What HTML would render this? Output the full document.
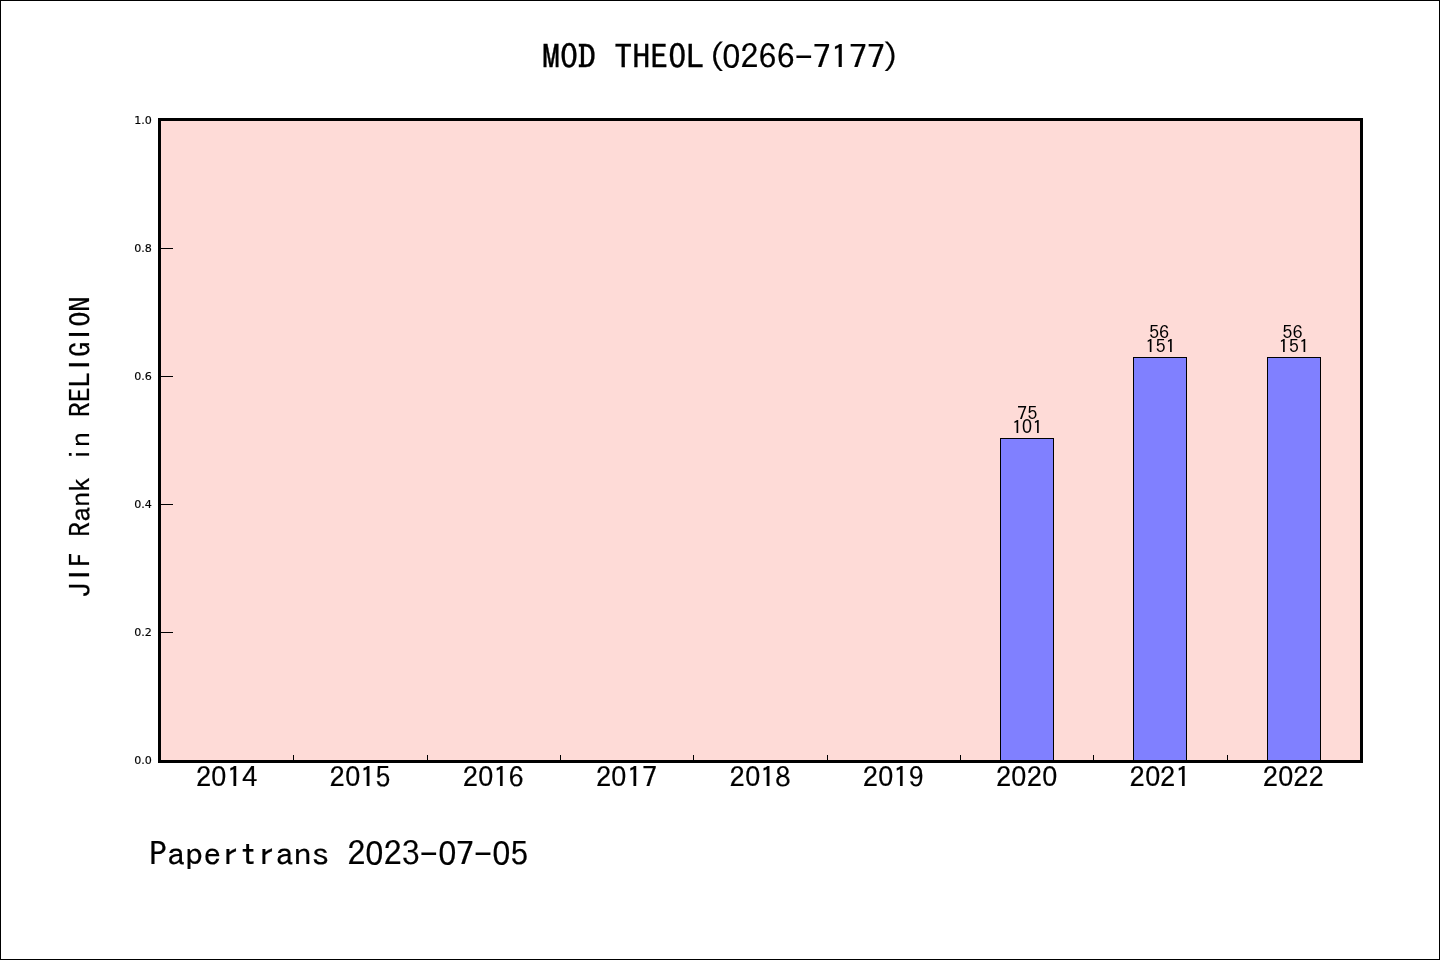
<!DOCTYPE html>
<html lang="en">
<head>
<meta charset="utf-8">
<title>MOD THEOL(0266-7177)</title>
<style>
html,body{margin:0;padding:0;background:#fff;}
body{width:1440px;height:960px;position:relative;overflow:hidden;color:#000;}
.hei{font-family:"IPAGothic","WenQuanYi Zen Hei Mono","Noto Sans Mono CJK SC","Liberation Mono",monospace;white-space:pre;position:absolute;line-height:1;transform:scaleY(0.92);transform-origin:50% 50%;-webkit-text-stroke:0.2px #000;}
.z{display:inline-block;font-family:"Liberation Sans","DejaVu Sans",sans-serif;font-size:1.04em;transform:scaleX(0.85);margin:0 -0.0376em;text-indent:0;vertical-align:0.039em;line-height:0;}
.ci{display:inline-block;font-family:"Liberation Sans","DejaVu Sans",sans-serif;font-size:1.02em;margin:0 0.106em;vertical-align:0.02em;line-height:0;letter-spacing:0;}
.dj{font-family:"DejaVu Sans","Liberation Sans",sans-serif;white-space:pre;position:absolute;line-height:1;}
#frame{position:absolute;left:0;top:0;width:1438px;height:958px;border:1px solid #000;}
#axes{position:absolute;left:158px;top:118px;width:1199px;height:639px;border:3px solid #000;background:#FEDBD7;}
.bar{position:absolute;background:#8080FF;border:1px solid #000;box-sizing:border-box;}
.xt{position:absolute;width:1px;height:5px;top:755px;background:#000;}
.yt{position:absolute;height:1px;width:12px;left:161px;background:#000;}
.yl{font-size:11.11px;width:60px;text-align:right;left:91.9px;-webkit-text-stroke:0.15px #000;}
.big{font-size:36.11px;}
.xl{font-size:30.56px;width:120px;text-align:center;top:761.5px;}
.bl{font-size:20.4px;width:100px;text-align:center;line-height:15.2px;-webkit-text-stroke:0;}
</style>
</head>
<body>
<div id="frame"></div>
<div id="axes"></div>

<div class="hei big" id="title" style="left:2.5px;width:1440px;text-align:center;top:38px;"><span style="-webkit-text-stroke:0.32px #000">MOD THEOL</span><span style="position:relative;left:3px">(</span><span class="z">0</span>266-7177<span style="position:relative;left:-3px">)</span></div>

<div class="hei" id="ylabel" style="left:80px;top:447px;font-size:30.56px;letter-spacing:-0.3px;transform:translate(-50%,-50%) rotate(-90deg) scaleY(0.92);">J<span class="ci">I</span>F Rank in REL<span class="ci">I</span>G<span class="ci">I</span>ON</div>

<div class="dj yl" style="top:115px;">1.0</div>
<div class="dj yl" style="top:243px;">0.8</div>
<div class="dj yl" style="top:371px;">0.6</div>
<div class="dj yl" style="top:499px;">0.4</div>
<div class="dj yl" style="top:627px;">0.2</div>
<div class="dj yl" style="top:755px;">0.0</div>

<div class="yt" style="top:248px;"></div>
<div class="yt" style="top:376px;"></div>
<div class="yt" style="top:504px;"></div>
<div class="yt" style="top:632px;"></div>

<div class="xt" style="left:293px;"></div>
<div class="xt" style="left:427px;"></div>
<div class="xt" style="left:560px;"></div>
<div class="xt" style="left:693px;"></div>
<div class="xt" style="left:827px;"></div>
<div class="xt" style="left:960px;"></div>
<div class="xt" style="left:1093px;"></div>
<div class="xt" style="left:1227px;"></div>

<div class="bar" style="left:1000px;top:438px;width:54px;height:323px;"></div>
<div class="bar" style="left:1133px;top:357px;width:54px;height:404px;"></div>
<div class="bar" style="left:1267px;top:357px;width:54px;height:404px;"></div>

<div class="hei bl" style="left:977.3px;top:404.9px;">75
1<span class="z">0</span>1</div>
<div class="hei bl" style="left:1110.5px;top:324.3px;"><span style="position:relative;left:-1.4px">56</span>
151</div>
<div class="hei bl" style="left:1243.9px;top:324.3px;"><span style="position:relative;left:-1.4px">56</span>
151</div>

<div class="hei xl" style="left:166.67px;">2<span class="z">0</span>14</div>
<div class="hei xl" style="left:300px;">2<span class="z">0</span>15</div>
<div class="hei xl" style="left:433.33px;">2<span class="z">0</span>16</div>
<div class="hei xl" style="left:566.67px;">2<span class="z">0</span>17</div>
<div class="hei xl" style="left:700px;">2<span class="z">0</span>18</div>
<div class="hei xl" style="left:833.33px;">2<span class="z">0</span>19</div>
<div class="hei xl" style="left:966.67px;">2<span class="z">0</span>2<span class="z">0</span></div>
<div class="hei xl" style="left:1100px;">2<span class="z">0</span>21</div>
<div class="hei xl" style="left:1233.33px;">2<span class="z">0</span>22</div>

<div class="hei big" id="footer" style="left:149px;top:835px;">Papertrans 2<span class="z">0</span>23-<span class="z">0</span>7-<span class="z">0</span>5</div>
</body>
</html>
